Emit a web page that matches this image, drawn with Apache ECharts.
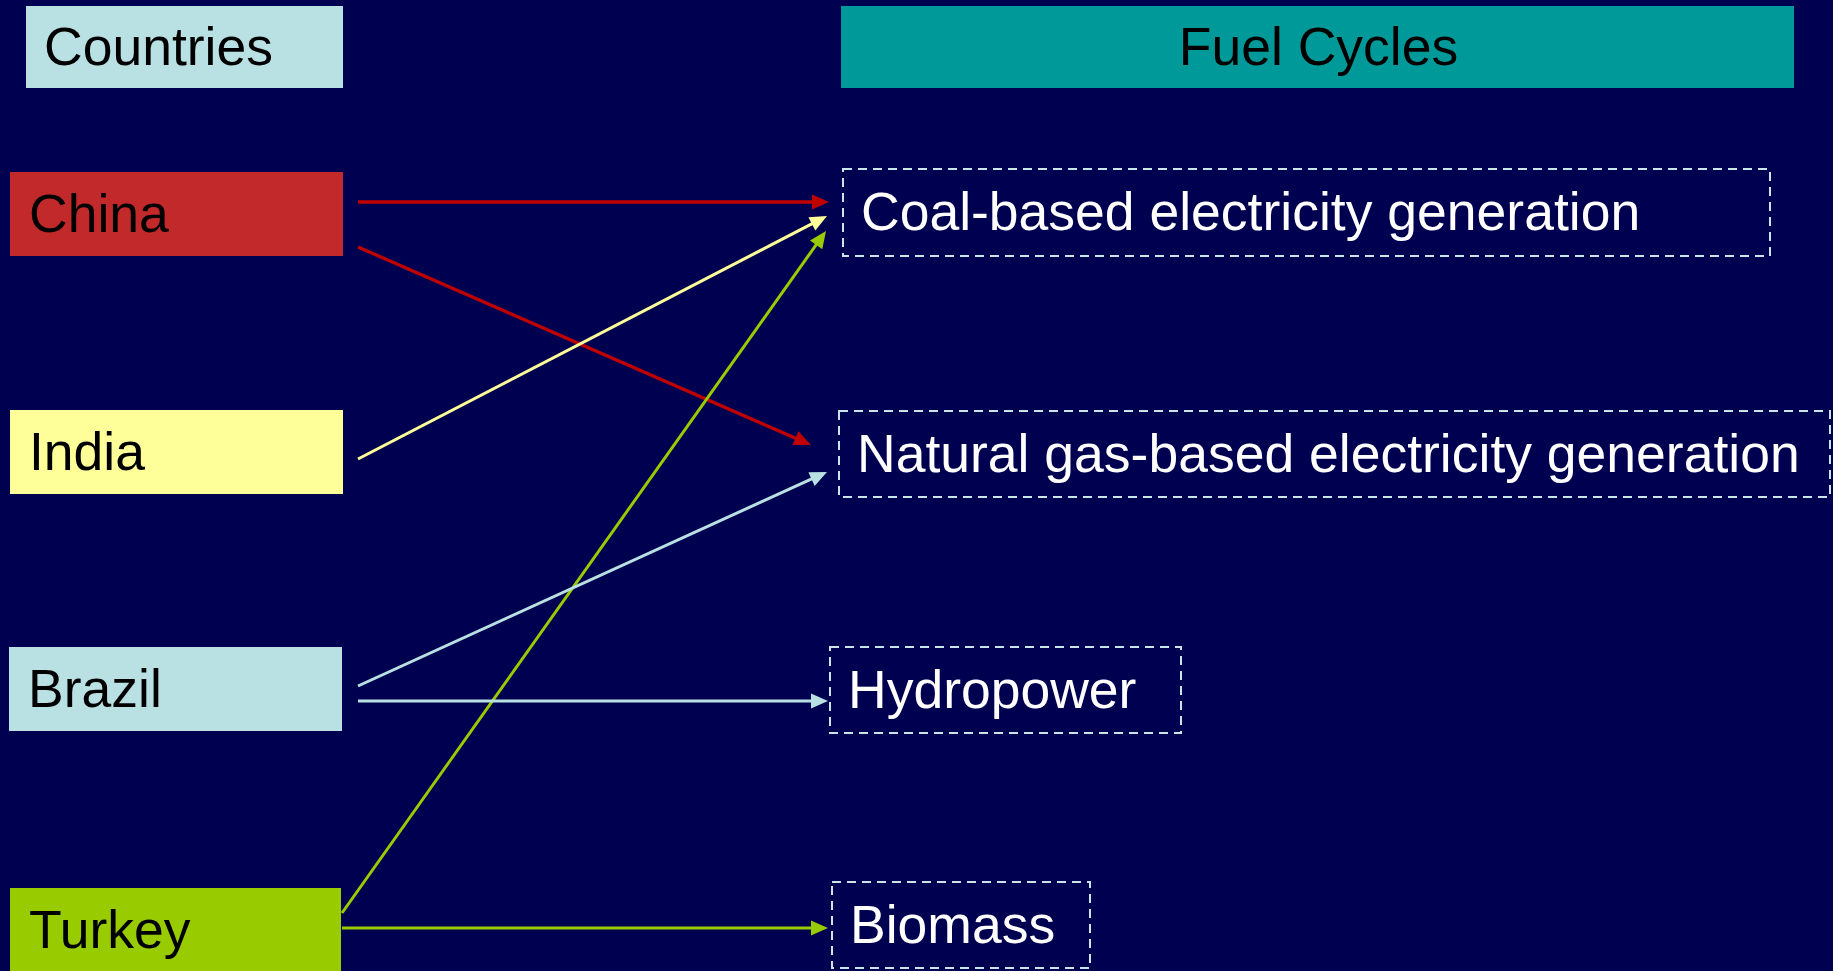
<!DOCTYPE html>
<html>
<head>
<meta charset="utf-8">
<script src="https://cdn.jsdelivr.net/npm/echarts@6/dist/echarts.min.js"></script>
<style>
html,body{margin:0;padding:0;background:#000050;}
#chart{width:1833px;height:971px;}
</style>
</head>
<body>
<div id="chart"></div>
<script>
// ---- data ----
const headers = ['Countries', 'Fuel Cycles'];
const countries = ['China', 'India', 'Brazil', 'Turkey'];
const fuelCycles = ['Coal-based electricity generation', 'Natural gas-based electricity generation', 'Hydropower', 'Biomass'];
// links: [country index, fuel cycle index]
const links = [[0, 0], [0, 1], [1, 0], [3, 0], [2, 1], [2, 2], [3, 3]];

// ---- styles ----
const countryColors = ['#C1292B', '#FFFF99', '#B9E0E3', '#99CC00'];
const linkColors = ['#C00000', '#FFFF99', '#B9E0E3', '#99CC00'];
const headerColors = ['#B9E0E3', '#009999'];
const FONT = '"Liberation Sans", Arial, sans-serif';

// ---- layout (pixel space of a hidden value grid) ----
const W = 1833, H = 971;
const headerRects = [[26, 6, 343, 88], [841, 6, 1794, 88]];
const countryRects = [[10, 172, 343, 256], [10, 410, 343, 494], [9, 647, 342, 731], [10, 888, 341, 980]];
const fuelRects = [[843, 169, 1770, 256], [839, 411, 1830, 497], [830, 647, 1181, 733], [832, 882, 1090, 968]];
// link ports: start point and arrow tip, one per link
const linkPorts = [
  [358, 202, 829, 202],
  [358, 247, 811, 445],
  [358, 459, 827, 216],
  [342, 913, 826, 231],
  [358, 686, 827, 472],
  [358, 701, 828, 701],
  [342, 928, 828, 928]
];

const headerData = headers.map((t, i) => [...headerRects[i], i]);
const countryData = countries.map((t, i) => [...countryRects[i], i]);
const fuelData = fuelCycles.map((t, i) => [...fuelRects[i], i]);
const linkData = links.map((l, i) => [...linkPorts[i], l[0], l[1]]);

function rectOf(api) {
  const p0 = api.coord([api.value(0), api.value(1)]);
  const p1 = api.coord([api.value(2), api.value(3)]);
  return {x: p0[0], y: p0[1], w: p1[0] - p0[0], h: p1[1] - p0[1]};
}

const chart = echarts.init(document.getElementById('chart'), null, {renderer: 'canvas'});
chart.setOption({
  backgroundColor: '#000050',
  animation: false,
  grid: {left: 0, right: 0, top: 0, bottom: 0},
  xAxis: {type: 'value', min: 0, max: W, show: false},
  yAxis: {type: 'value', min: 0, max: H, inverse: true, show: false},
  series: [
    {
      type: 'custom', name: 'links', data: linkData, z: 1,
      renderItem: function (params, api) {
        const a = api.coord([api.value(0), api.value(1)]);
        const b = api.coord([api.value(2), api.value(3)]);
        const c = linkColors[api.value(4)];
        const dx = b[0] - a[0], dy = b[1] - a[1];
        const len = Math.sqrt(dx * dx + dy * dy);
        const ux = dx / len, uy = dy / len;
        const hl = 17, hw = 7.5;
        const bx = b[0] - ux * hl, by = b[1] - uy * hl;
        const lw = api.value(4) === 0 ? 3.5 : 3;
        return {
          type: 'group',
          children: [
            {type: 'line', shape: {x1: a[0], y1: a[1], x2: bx + ux * 2, y2: by + uy * 2},
             style: {stroke: c, lineWidth: lw}},
            {type: 'polygon', shape: {points: [[b[0], b[1]], [bx - uy * hw, by + ux * hw], [bx + uy * hw, by - ux * hw]]},
             style: {fill: c}}
          ]
        };
      }
    },
    {
      type: 'custom', name: 'headers', data: headerData, z: 2,
      renderItem: function (params, api) {
        const r = rectOf(api);
        const i = api.value(4);
        return {
          type: 'group',
          children: [
            {type: 'rect', shape: {x: r.x, y: r.y, width: r.w, height: r.h}, style: {fill: headerColors[i]}},
            {type: 'text', style: {
              text: headers[i],
              x: i === 0 ? r.x + 18 : r.x + r.w / 2 + 1,
              y: r.y + r.h / 2 + 3,
              align: i === 0 ? 'left' : 'center', verticalAlign: 'middle',
              fill: '#000000', fontSize: 53.5, fontFamily: FONT
            }}
          ]
        };
      }
    },
    {
      type: 'custom', name: 'countries', data: countryData, z: 2,
      renderItem: function (params, api) {
        const r = rectOf(api);
        const i = api.value(4);
        return {
          type: 'group',
          children: [
            {type: 'rect', shape: {x: r.x, y: r.y, width: r.w, height: r.h}, style: {fill: countryColors[i]}},
            {type: 'text', style: {
              text: countries[i], x: r.x + 19, y: i === 3 ? r.y + 45 : r.y + r.h / 2 + 3,
              align: 'left', verticalAlign: 'middle',
              fill: '#000000', fontSize: 53.5, fontFamily: FONT
            }}
          ]
        };
      }
    },
    {
      type: 'custom', name: 'fuelCycles', data: fuelData, z: 2,
      renderItem: function (params, api) {
        const r = rectOf(api);
        const i = api.value(4);
        return {
          type: 'group',
          children: [
            {type: 'rect', shape: {x: r.x, y: r.y, width: r.w, height: r.h},
             style: {fill: 'none', stroke: '#C8E6EA', lineWidth: 2, lineDash: [9, 6]}},
            {type: 'text', style: {
              text: fuelCycles[i], x: r.x + 18, y: r.y + r.h / 2 + 3,
              align: 'left', verticalAlign: 'middle',
              fill: '#FFFFFF', fontSize: 53.5, fontFamily: FONT
            }}
          ]
        };
      }
    }
  ]
});
</script>
</body>
</html>
